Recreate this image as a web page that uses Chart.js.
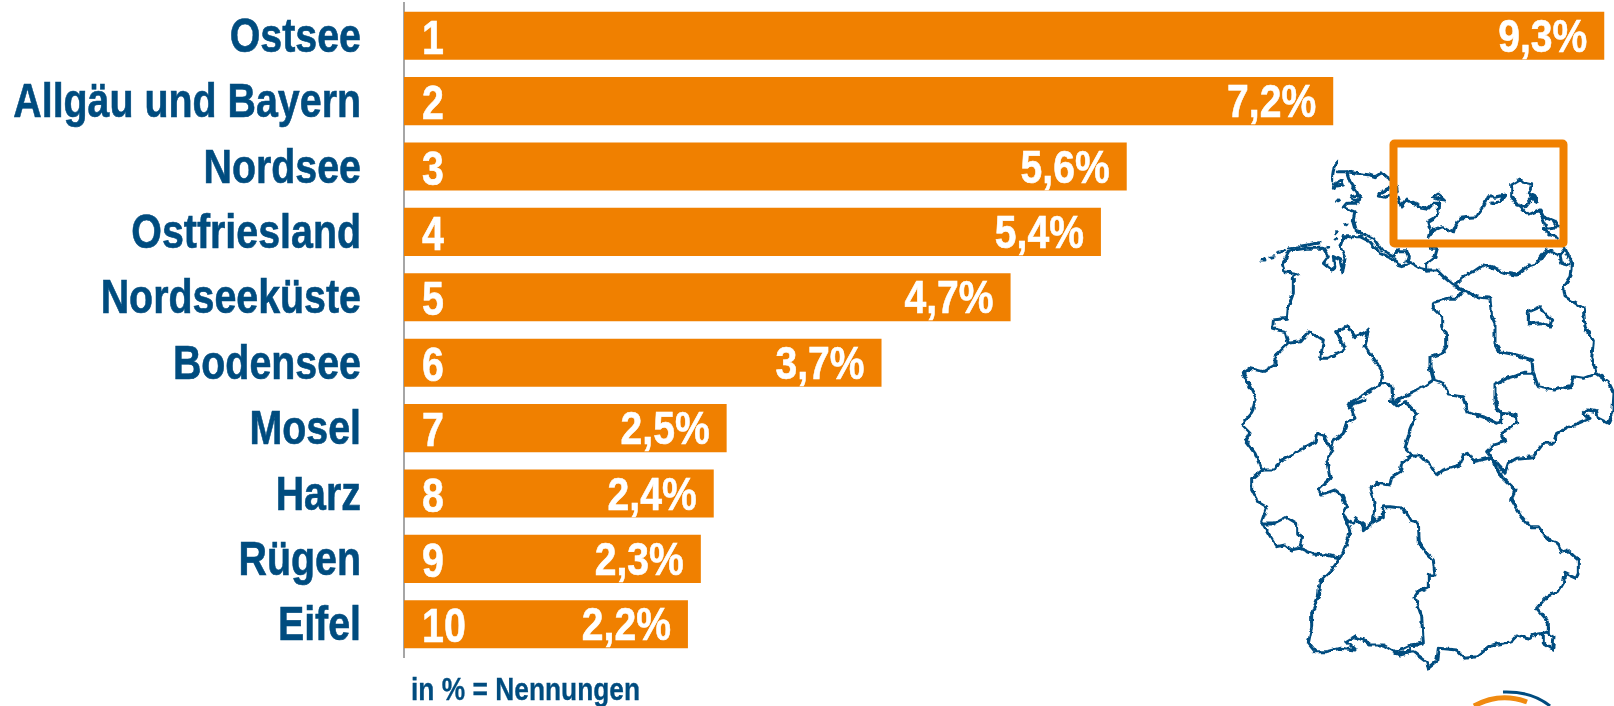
<!DOCTYPE html>
<html lang="de">
<head>
<meta charset="utf-8">
<title>Reiseziele</title>
<script src="https://cdn.jsdelivr.net/npm/chart.js@4"></script>
<style>
html,body{margin:0;padding:0;background:#fff;width:1614px;height:706px;overflow:hidden}
#wrap{position:relative;width:1614px;height:706px}
canvas{position:absolute;left:0;top:0}
#map{position:absolute;left:0;top:0;pointer-events:none}
#note{position:absolute;left:411px;top:673px;font:bold 31px "Liberation Sans",sans-serif;color:#004c7f;-webkit-text-stroke:.3px #004c7f;white-space:nowrap;line-height:34px;transform:scaleX(.85);transform-origin:left center}
</style>
</head>
<body>
<div id="wrap">
<canvas id="c" width="1614" height="706"></canvas>
<svg id="map" width="1614" height="706" viewBox="0 0 1614 706">
  <defs>
    <filter id="rough" filterUnits="userSpaceOnUse" x="1190" y="120" width="424" height="560" color-interpolation-filters="sRGB">
      <feTurbulence type="fractalNoise" baseFrequency="0.16" numOctaves="2" seed="4" result="n"/>
      <feDisplacementMap in="SourceGraphic" in2="n" scale="5" xChannelSelector="R" yChannelSelector="G"/>
      <feGaussianBlur stdDeviation="0.3"/>
    </filter>
  </defs>
  <g filter="url(#rough)">
    <g transform="translate(1200,120) scale(.33333)" fill="none" stroke="#004c7f" stroke-width="9" stroke-linejoin="round" stroke-linecap="round" id="outline"></g>
  </g>
  <rect x="1393.5" y="143.5" width="170" height="100" rx="1" fill="none" stroke="#f08000" stroke-width="8"/>
  <path d="M1474 706Q1500 692 1527 702" fill="none" stroke="#f08a10" stroke-width="5"/>
  <path d="M1503 692Q1532 691 1550 706" fill="none" stroke="#004c7f" stroke-width="3"/>
</svg>
<div id="note">in % = Nennungen</div>
</div>
<script>
const categories = ["Ostsee","Allgäu und Bayern","Nordsee","Ostfriesland","Nordseeküste","Bodensee","Mosel","Harz","Rügen","Eifel"];
const shares = [9.3,7.2,5.6,5.4,4.7,3.7,2.5,2.4,2.3,2.2];
const ranks = ["1","2","3","4","5","6","7","8","9","10"];
const shareLabels = ["9,3%","7,2%","5,6%","5,4%","4,7%","3,7%","2,5%","2,4%","2,3%","2,2%"];

const FONT = '"Liberation Sans",sans-serif';
const ORANGE = "#f08000";
const BLUE = "#004c7f";

function narrowText(ctx, text, x, y, size, squeeze, align, color) {
  ctx.save();
  ctx.translate(x, y);
  ctx.scale(squeeze, 1);
  ctx.font = "bold " + size + "px " + FONT;
  ctx.textAlign = align;
  ctx.textBaseline = "alphabetic";
  ctx.fillStyle = color;
  ctx.strokeStyle = color;
  ctx.lineWidth = 0.6;
  ctx.strokeText(text, 0, 0);
  ctx.fillText(text, 0, 0);
  ctx.restore();
}

const barText = {
  id: "barText",
  afterDatasetsDraw(chart) {
    const ctx = chart.ctx;
    const bars = chart.getDatasetMeta(0).data;
    bars.forEach((bar, i) => {
      narrowText(ctx, categories[i], bar.base - 43, bar.y + 16, 48, 0.82, "right", BLUE);
      narrowText(ctx, ranks[i], bar.base + 18, bar.y + 18, 48, 0.82, "left", "#fff");
      narrowText(ctx, shareLabels[i], bar.x - 17, bar.y + 16, 46, 0.85, "right", "#fff");
    });
  }
};

new Chart(document.getElementById("c"), {
  type: "bar",
  data: {
    labels: categories,
    datasets: [{ data: shares, backgroundColor: ORANGE, borderWidth: 0, barPercentage: 0.735, categoryPercentage: 1 }]
  },
  options: {
    indexAxis: "y",
    responsive: false,
    animation: false,
    layout: { padding: { top: 3, bottom: 49, right: 2, left: 0 } },
    plugins: { legend: { display: false }, tooltip: { enabled: false } },
    scales: {
      x: { display: false, min: 0, max: 9.36 },
      y: {
        afterFit(s) { s.width = 404; s.paddingTop = 0; s.paddingBottom = 0; },
        grid: { display: false, drawTicks: false },
        border: { display: true, color: "#a6a6a6", width: 2 },
        ticks: { display: false, autoSkip: false }
      }
    }
  },
  plugins: [barText]
});

// Hand-traced decorative outline of Germany (not chart data)
const outlinePaths = [
 "M412 126L402 140 398 165 398 183",
 "M412 155L440 155 470 160 510 165 525 170 545 158 560 170 575 180 590 200 592 215 575 225 555 232 538 228 545 215 565 205",
 "M595 232L603 258 618 240 640 250 665 262 685 265 700 250 716 250 714 280 700 295 683 305 690 330 685 350 700 330 725 320 745 330 760 338 765 320 780 295 810 292 830 290 850 262 865 230 885 232 915 225 900 245 875 250",
 "M700 232L715 222 735 240 715 238Z",
 "M440 155L450 185 470 215 480 235 465 250 440 250 430 262 465 275 460 300 470 335 500 345 520 355 545 390 585 410 595 392 620 392 625 410 620 425 635 430 660 445 680 450 710 450 730 470 760 495 790 510",
 "M430 350L480 350 510 365 540 400 585 420 590 435 605 440 635 430",
 "M430 350L420 380 435 415 428 455 420 420 400 410 405 440 395 450 370 430 385 410 370 385 320 385 270 392 250 430 255 455 295 462 280 470 280 520 265 560 262 595 220 600 218 625 255 635 265 670 300 665 325 635 355 650 370 660 362 715 385 715 410 700 435 690 410 635 445 620 465 650 490 640 505 630 495 680 520 715 548 755 540 790 575 795 580 850 600 835 640 815 670 800 700 780",
 "M790 510L770 535 740 535 700 548 700 565 725 590 725 620 740 650 740 680 725 700 690 712 690 740 700 780 730 790 745 825 790 830 800 860 790 840 805 880 850 890 890 910 905 905 905 880",
 "M690 385L712 385 705 410 680 430 680 450",
 "M770 490L790 470 820 455 850 435 880 445 920 460 950 465 980 440 1010 430 1040 390 1080 405 1095 385 1115 430 1110 470 1090 500 1095 530 1150 565 1155 620 1180 665 1175 715 1190 760 1225 785 1242 820 1238 880 1225 910 1195 895 1190 875 1160 870 1150 880 1170 895 1110 920 1070 940 1060 970 1030 970 1000 1010 950 1015 925 1030 915 1060 890 1030 870 1015",
 "M1080 405L1085 430 1105 435",
 "M790 510L830 530 870 535 875 590 885 610 885 670 900 695 950 705 995 720 1000 760 970 760 920 775 885 795 885 840 890 865 905 880 945 885 950 910 905 940 915 965 880 975 860 995 875 1015",
 "M1000 760L1015 800 1060 810 1110 800 1120 770 1150 775 1190 760",
 "M875 1015L885 1035 905 1070 945 1108 935 1140 965 1190 990 1220 1015 1220 1040 1255 1070 1265 1085 1295 1100 1290 1135 1320 1135 1360 1128 1375 1095 1360 1090 1390 1075 1415 1040 1430 1010 1465 1045 1505 1045 1535 1030 1540 1000 1545 990 1555 950 1545 935 1565 875 1575 830 1610 795 1615 770 1590 715 1585 710 1625 685 1645 680 1625 640 1595 600 1600",
 "M1045 1540L1062 1550 1058 1588 1030 1570 1030 1540",
 "M590 1595L630 1575 670 1570 665 1490 645 1430 655 1415 685 1400 685 1365 705 1365 700 1320 680 1300 658 1270 655 1210 635 1205 610 1165 570 1160 550 1160 550 1190 520 1205",
 "M520 1205L525 1160 510 1105 530 1090 570 1095 575 1070 600 1055 605 1030 635 1005 660 1005 690 1035 710 1065 730 1050 780 1035 790 1005 805 1000 820 1025 865 1015",
 "M420 1315L395 1350 360 1385 355 1430 335 1480 335 1520 325 1570 345 1595 380 1595 420 1585 465 1590 440 1565 465 1550 490 1560 510 1575 550 1575 600 1605 620 1600 630 1585",
 "M520 1205L490 1232 490 1215 465 1195 460 1210 440 1200 430 1180 440 1160 425 1125 405 1110 365 1125 355 1108 390 1075 380 1020 395 990 370 945 350 940 345 965 300 990 240 1025 225 1050 185 1050",
 "M185 1050L155 1075 155 1110 175 1145 200 1160 185 1205 205 1240 230 1280 255 1275 275 1290 300 1285 340 1302 380 1305 420 1315 440 1270 450 1235 430 1180",
 "M185 1212L220 1212 260 1192 290 1210 290 1240 308 1250 300 1280",
 "M265 670L225 710 225 735 190 755 150 745 130 760 165 830 165 840 155 880 125 915 150 940 135 960 165 1000 185 1050",
 "M495 840L450 855 465 895 440 910 430 940 400 965 395 990",
 "M548 790L490 825 450 850 445 865",
 "M570 840L590 860 615 845 650 880 630 930 615 985 635 1005",
 "M985 575L1020 560 1035 580 1055 600 1050 618 1020 608 985 612Z",
 "M935 230L935 195 960 180 970 190 995 195 985 220 1005 230 1012 245 995 235 975 260 950 255 935 230 960 260 985 285 1020 270 1030 290 1065 305 1075 320 1040 325 1030 300 1020 280",
 "M1030 325L1050 345 1075 352",
 "M400 195L425 182 430 195 410 198Z","M455 230L475 225 478 240 460 240Z",
 "M183 420L195 420","M210 412L222 410","M232 398L255 392","M265 384L295 380","M305 378L360 368","M380 382L386 380","M405 357L408 355","M410 335L412 335","M436 314L438 312","M414 240L416 245","M402 200L400 205"
];
const g = document.getElementById("outline");
outlinePaths.forEach(d => {
  const p = document.createElementNS("http://www.w3.org/2000/svg", "path");
  p.setAttribute("d", d);
  g.appendChild(p);
});
</script>
</body>
</html>
